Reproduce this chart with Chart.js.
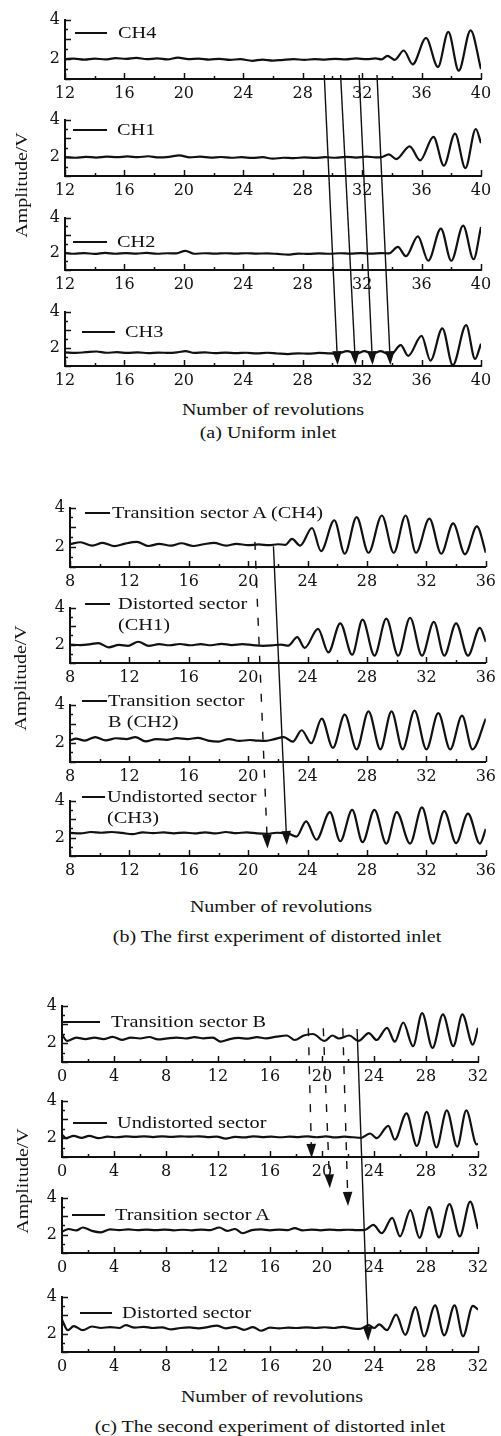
<!DOCTYPE html>
<html><head><meta charset="utf-8">
<script src="https://cdn.jsdelivr.net/npm/chart.js@4.4.1/dist/chart.umd.min.js"></script>
<style>
html,body{margin:0;padding:0;background:#fff;}
#root{position:relative;width:501px;height:1436px;overflow:hidden;background:#fff;}
.t{position:absolute;font-family:"Liberation Serif","Times New Roman",serif;font-size:16px;line-height:16px;color:#111;white-space:nowrap;}
.lg{position:absolute;height:0;border-top:2px solid #111;}
#ov{position:absolute;left:0;top:0;pointer-events:none;}
</style></head><body><div id="root"></div>
<script>
// ---------- data: [revolutions, amplitude V] ----------
// (a) Uniform inlet
const ch4a = [[12,2.0],[12.6,2.03],[13.3,1.98],[14,2.03],[14.7,1.99],[15.4,2.05],[16.1,2.02],[16.8,2.07],[17.5,2.0],[18.2,2.04],[18.9,1.99],[19.6,2.08],[20.3,2.0],[21,2.03],[21.7,1.98],[22.4,2.02],[23.1,1.97],[23.8,2.0],[24.6,1.92],[25.3,1.98],[26,1.93],[26.7,1.97],[27.4,2.0],[28.1,1.97],[28.8,2.0],[29.5,1.98],[30.2,2.02],[30.9,1.99],[31.6,2.04],[32.3,2.0],[32.9,2.04],[33.3,1.99],[33.7,2.17],[34.2,1.97],[34.8,2.44],[35.4,1.74],[36.3,3.07],[37.1,1.61],[37.8,3.38],[38.5,1.42],[39.3,3.46],[40,1.5]];
const ch1a = [[12,2.0],[12.7,1.97],[13.4,2.02],[14.1,1.98],[14.8,2.03],[15.5,2.0],[16.2,2.04],[16.9,2.0],[17.6,2.05],[18.3,1.99],[19,2.02],[19.7,2.1],[20.4,1.99],[21.1,2.03],[21.8,1.98],[22.5,2.01],[23.2,1.97],[23.9,2.0],[24.6,1.96],[25.3,2.0],[26,1.92],[26.7,1.97],[27.4,1.95],[28.1,1.99],[28.8,1.96],[29.5,2.0],[30.2,1.97],[30.9,2.02],[31.6,1.98],[32.3,2.03],[32.9,1.99],[33.3,2.0],[33.8,2.15],[34.3,1.9],[35.2,2.58],[35.9,1.83],[36.8,3.08],[37.5,1.55],[38.25,3.25],[38.95,1.42],[39.65,3.5],[40,2.75]];
const ch2a = [[12,1.98],[12.6,1.93],[13.3,1.97],[14,1.92],[14.7,1.98],[15.4,1.93],[16.1,1.97],[16.8,1.94],[17.5,1.98],[18.2,1.93],[18.9,1.96],[19.5,1.95],[20.1,2.1],[20.7,1.93],[21.4,1.96],[22.1,1.94],[22.8,1.96],[23.5,1.94],[24.2,1.96],[24.9,1.94],[25.6,1.95],[26.3,1.92],[27,1.88],[27.7,1.94],[28.4,1.92],[29.1,1.95],[29.8,1.93],[30.5,1.96],[31.2,1.94],[31.9,1.97],[32.6,1.94],[33.3,1.97],[33.8,1.95],[34.4,2.32],[34.95,1.79],[35.75,2.93],[36.45,1.53],[37.3,3.37],[38.0,1.53],[38.8,3.54],[39.5,1.62],[40,3.46]];
const ch3a = [[12,1.75],[12.7,1.72],[13.4,1.76],[14.1,1.8],[14.8,1.73],[15.5,1.76],[16.2,1.72],[16.9,1.75],[17.6,1.71],[18.3,1.74],[19,1.72],[19.6,1.76],[20.1,1.82],[20.7,1.72],[21.4,1.75],[22.1,1.71],[22.8,1.74],[23.5,1.71],[24.2,1.73],[24.9,1.7],[25.6,1.73],[26.3,1.69],[27,1.66],[27.7,1.7],[28.4,1.68],[29.1,1.72],[29.7,1.7],[30.3,1.68],[31.0,1.82],[31.6,1.68],[32.15,1.82],[32.7,1.68],[33.25,1.82],[33.9,1.6],[34.6,2.15],[35.1,1.56],[36.0,2.66],[36.6,1.3],[37.4,3.08],[38.1,1.05],[39.0,3.25],[39.6,1.39],[40,2.23]];
// (b) first experiment of distorted inlet
const ch4b = [[8,2.15],[8.7,2.25],[9.5,2.08],[10.2,2.22],[11,2.05],[11.7,2.18],[12.5,2.27],[13.3,2.06],[14,2.17],[14.8,2.08],[15.5,2.2],[16.3,2.06],[17,2.15],[17.7,2.22],[18.5,2.08],[19.2,2.17],[20,2.1],[20.7,2.14],[21.4,2.1],[22,2.15],[22.5,2.12],[22.95,2.42],[23.5,2.08],[24.3,2.97],[24.9,1.8],[25.8,3.36],[26.5,1.67],[27.3,3.52],[28.1,1.72],[29.0,3.6],[29.8,1.72],[30.6,3.6],[31.3,1.72],[32.2,3.44],[33.0,1.67],[33.8,3.2],[34.6,1.64],[35.4,3.05],[36,1.72]];
const ch1b = [[8,2.0],[8.7,1.97],[9.4,2.02],[9.9,2.08],[10.6,1.85],[11.3,1.98],[11.9,1.93],[12.6,2.15],[13.3,1.93],[14,2.02],[14.7,1.96],[15.4,2.03],[16.1,1.96],[16.8,2.02],[17.5,1.96],[18.2,2.04],[18.9,1.97],[19.6,2.02],[20.3,1.97],[21,1.93],[21.6,1.95],[22.2,2.0],[22.7,1.94],[23.3,2.4],[23.8,1.82],[24.7,2.85],[25.4,1.57],[26.2,3.15],[27.0,1.45],[27.7,3.35],[28.5,1.4],[29.3,3.4],[30.1,1.4],[30.9,3.45],[31.7,1.4],[32.5,3.23],[33.2,1.4],[34.0,3.15],[34.8,1.4],[35.6,2.9],[36,2.15]];
const ch2b = [[8,2.12],[8.4,2.22],[9,2.12],[9.7,2.3],[10.4,2.13],[11.1,2.24],[11.8,2.2],[12.4,2.3],[13.1,2.08],[13.8,2.2],[14.5,2.16],[15.2,2.25],[15.9,2.2],[16.6,2.26],[17.3,2.12],[18,2.07],[18.7,2.2],[19.4,2.1],[20.1,2.15],[20.6,2.12],[21.1,2.1],[21.7,2.18],[22.4,2.3],[23.0,2.06],[23.6,2.66],[24.25,1.98],[24.95,3.27],[25.7,1.74],[26.5,3.48],[27.3,1.66],[28.1,3.65],[28.9,1.66],[29.65,3.65],[30.4,1.66],[31.2,3.68],[32.0,1.66],[32.8,3.55],[33.6,1.66],[34.4,3.42],[35.1,1.66],[36,3.27]];
const ch3b = [[8,2.25],[8.7,2.22],[9.4,2.3],[10.1,2.26],[10.8,2.3],[11.5,2.25],[12.2,2.18],[12.9,2.28],[13.6,2.24],[14.3,2.28],[15,2.23],[15.7,2.27],[16.4,2.22],[17.1,2.28],[17.8,2.22],[18.5,2.3],[19.2,2.24],[19.9,2.28],[20.6,2.22],[21.3,2.2],[21.9,2.26],[22.6,2.24],[23.25,2.05],[23.9,2.88],[24.6,1.88],[25.5,3.38],[26.2,1.8],[27.0,3.5],[27.7,1.75],[28.5,3.5],[29.3,1.67],[30.0,3.38],[30.9,1.67],[31.7,3.63],[32.45,1.67],[33.2,3.43],[34.0,1.7],[34.8,3.3],[35.6,1.67],[36,2.47]];
// (c) second experiment of distorted inlet
const transB_c = [[0,2.45],[0.4,2.12],[1.1,2.3],[1.8,2.22],[2.5,2.3],[3.2,2.22],[3.9,2.34],[4.6,2.18],[5.3,2.3],[6,2.25],[6.7,2.33],[7.4,2.2],[8.1,2.26],[8.8,2.3],[9.5,2.25],[10.2,2.32],[10.9,2.26],[11.6,2.3],[12.2,2.08],[12.9,2.22],[13.6,2.28],[14.3,2.24],[15,2.32],[15.7,2.26],[16.5,2.35],[17.3,2.41],[17.9,2.17],[18.6,2.41],[19.3,2.49],[20.2,2.12],[20.8,2.41],[21.3,2.25],[22.1,2.41],[22.8,2.12],[23.6,2.54],[24.2,2.17],[25.0,2.82],[25.6,2.08],[26.25,3.1],[27.0,1.84],[27.7,3.6],[28.5,1.75],[29.3,3.53],[30.1,1.84],[30.8,3.53],[31.6,1.92],[32,2.82]];
const undist_c = [[0,2.2],[0.3,2.0],[0.9,2.12],[1.5,2.02],[2.1,2.12],[2.8,2.0],[3.5,2.08],[4.2,2.05],[4.9,2.1],[5.6,2.07],[6.3,2.1],[7,2.06],[7.7,2.1],[8.4,2.07],[9.1,2.1],[9.8,2.08],[10.5,2.1],[11.2,2.06],[11.9,2.08],[12.6,1.98],[13.3,2.07],[14,2.04],[14.7,2.1],[15.4,2.06],[16.1,2.08],[16.8,2.05],[17.5,2.08],[18.2,2.06],[18.9,2.1],[19.6,2.05],[20.3,2.1],[21,2.04],[21.7,2.08],[22.4,2.05],[23.0,2.02],[23.7,2.25],[24.2,2.0],[25.1,2.66],[25.6,1.92],[26.5,3.32],[27.3,1.59],[28.05,3.4],[28.8,1.51],[29.6,3.48],[30.4,1.55],[31.1,3.48],[31.9,1.67],[32,1.7]];
const transA_c = [[0,2.15],[0.5,2.3],[1.1,2.22],[1.6,2.38],[2.3,2.2],[3.0,2.12],[3.7,2.28],[4.4,2.24],[5.1,2.28],[5.8,2.24],[6.5,2.27],[7.2,2.24],[7.9,2.27],[8.6,2.23],[9.3,2.26],[10,2.23],[10.7,2.27],[11.4,2.24],[12.1,2.38],[12.7,2.2],[13.3,2.3],[13.9,2.07],[14.6,2.24],[15.3,2.28],[16,2.23],[16.7,2.27],[17.4,2.24],[17.9,2.35],[18.5,2.22],[19.2,2.27],[19.9,2.23],[20.6,2.27],[21.3,2.24],[22,2.26],[22.7,2.24],[23.3,2.25],[23.95,2.52],[24.6,2.07],[25.4,2.9],[26.0,1.9],[26.8,3.32],[27.5,1.82],[28.25,3.48],[29.0,1.85],[29.8,3.65],[30.6,1.9],[31.4,3.78],[32,2.3]];
const dist_c = [[0,2.75],[0.45,2.18],[0.9,2.4],[1.6,2.18],[2.3,2.38],[3,2.3],[3.7,2.35],[4.4,2.3],[4.9,2.45],[5.6,2.32],[6.3,2.36],[7,2.3],[7.7,2.33],[8.4,2.22],[9.1,2.3],[9.8,2.33],[10.5,2.28],[11.2,2.35],[11.9,2.43],[12.6,2.28],[13.3,2.36],[14,2.2],[14.7,2.35],[15.3,2.15],[16,2.32],[16.7,2.28],[17.4,2.32],[18.1,2.3],[18.8,2.33],[19.5,2.3],[20.2,2.34],[20.9,2.3],[21.6,2.36],[22.3,2.28],[22.9,2.25],[23.6,2.45],[24.0,2.3],[24.4,2.5],[25.0,2.18],[25.7,3.02],[26.4,1.93],[27.2,3.43],[27.85,1.85],[28.7,3.52],[29.4,1.9],[30.2,3.52],[30.85,1.85],[31.6,3.5],[32,3.3]];

// x-axis ranges and tick labels
const xRangeA = [12, 40], xRangeB = [8, 36], xRangeC = [0, 32];
const yRange = [1, 4];
const yTickLabels = [2, 4];

// legend texts
const labelsA = [["CH4"], ["CH1"], ["CH2"], ["CH3"]];
const labelsB = [["Transition sector A (CH4)"], ["Distorted sector", "(CH1)"], ["Transition sector", "B (CH2)"], ["Undistorted sector", "(CH3)"]];
const labelsC = [["Transition sector B"], ["Undistorted sector"], ["Transition sector A"], ["Distorted sector"]];

// propagation arrows: from [subplot, revolutions, V] to [subplot, revolutions, V]
const arrowsA = [
  {from:[0,29.45,1.2], to:[3,30.35,1.05], dashed:false},
  {from:[0,30.55,1.2], to:[3,31.55,1.05], dashed:false},
  {from:[0,31.8,1.2],  to:[3,32.7,1.05],  dashed:false},
  {from:[0,33.0,1.2],  to:[3,33.9,1.05],  dashed:false}
];
const arrowsB = [
  {from:[0,20.45,2.27], to:[3,21.3,1.4], dashed:true},
  {from:[0,21.7,2.05],  to:[3,22.6,1.6], dashed:false}
];
const arrowsC = [
  {from:[0,18.95,2.8], to:[1,19.2,0.95], dashed:true},
  {from:[0,20.1,2.8],  to:[2,20.6,4.5],  dashed:true},
  {from:[0,21.6,2.8],  to:[2,22.0,3.55], dashed:true},
  {from:[0,22.7,2.75], to:[3,23.55,1.6], dashed:false}
];

// ---------- layout ----------
const W = 501, PADT = 10, XLAB = 26;
const INK = '#111';
const PANELS = [
  {xr:xRangeA, left:65, right:481, subs:[[15,79],[115,176],[213,270],[307,366]], series:[ch4a,ch1a,ch2a,ch3a], labels:labelsA, arrows:arrowsA,
   legend:[[75,107,33,118],[73,107,130,117],[73,107,242,117],[82,115,332,125]], lineGap:21,
   xtitle:[273,410], caption:["(a) Uniform inlet",268,433], ytitle:[22,185]},
  {xr:xRangeB, left:70, right:486, subs:[[503,567],[603,663],[700,762],[796,856]], series:[ch4b,ch1b,ch2b,ch3b], labels:labelsB, arrows:arrowsB,
   legend:[[85,110,513,112],[85,110,604,118],[82,107,701,108],[82,105,797,107]], lineGap:21,
   xtitle:[281,907], caption:["(b) The first experiment of distorted inlet",277,937], ytitle:[21,678]},
  {xr:xRangeC, left:62, right:478, subs:[[1001,1062],[1096,1157],[1193,1253],[1292,1352]], series:[transB_c,undist_c,transA_c,dist_c], labels:labelsC, arrows:arrowsC,
   legend:[[63,100,1022,111],[73,107,1123,117],[72,105,1215,115],[80,112,1313,122]], lineGap:21,
   xtitle:[272,1397], caption:["(c) The second experiment of distorted inlet",270,1427], ytitle:[23,1181]}
];

const root = document.getElementById('root');

const innerTicks = {
  id:'innerTicks',
  afterDraw(chart){
    const ctx = chart.ctx, xs = chart.scales.x, ys = chart.scales.y, a = chart.chartArea;
    ctx.save();
    ctx.strokeStyle = INK; ctx.lineWidth = 1.5;
    xs.ticks.forEach(t => {
      const p = Math.round(xs.getPixelForValue(t.value)) + 0.5;
      const len = (t.value % 4 === 0) ? 6 : 3;
      ctx.beginPath(); ctx.moveTo(p, a.bottom); ctx.lineTo(p, a.bottom - len); ctx.stroke();
    });
    ys.ticks.forEach(t => {
      const p = Math.round(ys.getPixelForValue(t.value)) + 0.5;
      const len = Number.isInteger(t.value) ? 6 : 3;
      ctx.beginPath(); ctx.moveTo(a.left, p); ctx.lineTo(a.left + len, p); ctx.stroke();
    });
    ctx.restore();
  }
};

function makeChart(panel, sub, data){
  const top = sub[0], bottom = sub[1];
  const h = bottom - top + PADT + XLAB;
  const cv = document.createElement('canvas');
  cv.width = W; cv.height = h;
  cv.style.cssText = `position:absolute;left:0;top:${top - PADT}px;width:${W}px;height:${h}px;`;
  root.appendChild(cv);
  const tickFont = {family:'DejaVu Serif', size:16};
  return new Chart(cv, {
    type:'line',
    data:{datasets:[{data:data.map(p => ({x:p[0], y:p[1]})), borderColor:INK, borderWidth:2.2, pointRadius:0,
      cubicInterpolationMode:'monotone', fill:false}]},
    options:{
      responsive:false, animation:false, devicePixelRatio:1, parsing:false,
      layout:{autoPadding:false, padding:{left:0, right:W - panel.right, top:PADT, bottom:0}},
      plugins:{legend:{display:false}, tooltip:{enabled:false}},
      scales:{
        x:{type:'linear', min:panel.xr[0], max:panel.xr[1],
           grid:{drawOnChartArea:false, drawTicks:false},
           border:{display:true, color:INK, width:2},
           ticks:{stepSize:2, autoSkip:false, maxRotation:0, padding:5, color:INK, font:tickFont,
                  callback:v => (v % 4 === 0 ? String(v) : '')},
           afterFit:s => { s.height = XLAB; }},
        y:{type:'linear', min:yRange[0], max:yRange[1],
           grid:{drawOnChartArea:false, drawTicks:false},
           border:{display:true, color:INK, width:2},
           ticks:{stepSize:0.5, autoSkip:false, padding:5, color:INK, font:tickFont,
                  callback:v => (yTickLabels.includes(v) ? String(v) : '')},
           afterFit:s => { s.width = panel.left; }}
      }
    },
    plugins:[innerTicks]
  });
}

function addText(txt, x, y, mode){
  const d = document.createElement('div');
  d.className = 't';
  d.textContent = txt;
  d.style.left = x + 'px';
  d.style.top = (y - 8) + 'px';
  if (mode === 'center'){
    d.style.transformOrigin = 'center center';
    d.style.transform = 'translateX(-50%) scaleX(1.25)';
  } else if (mode === 'rot'){
    d.style.transformOrigin = 'center center';
    d.style.top = y + 'px';
    d.style.transform = 'translate(-50%,-50%) rotate(-90deg) scaleX(1.25)';
  } else {
    d.style.transformOrigin = 'left center';
    d.style.transform = 'scaleX(1.27)';
  }
  root.appendChild(d);
}

function addLegendLine(x1, x2, y){
  const d = document.createElement('div');
  d.className = 'lg';
  d.style.left = x1 + 'px'; d.style.width = (x2 - x1) + 'px'; d.style.top = (y - 1) + 'px';
  root.appendChild(d);
}

const charts = PANELS.map(p => p.subs.map((s, i) => makeChart(p, s, p.series[i])));

PANELS.forEach(p => {
  p.labels.forEach((lines, i) => {
    const lg = p.legend[i];
    addLegendLine(lg[0], lg[1], lg[2]);
    lines.forEach((ln, k) => addText(ln, lg[3], lg[2] + k * p.lineGap, 'left'));
  });
  addText('Number of revolutions', p.xtitle[0], p.xtitle[1], 'center');
  addText(p.caption[0], p.caption[1], p.caption[2], 'center');
  addText('Amplitude/V', p.ytitle[0], p.ytitle[1], 'rot');
});

// overlay with arrows, positioned through the charts' own scales
const ov = document.createElement('canvas');
ov.id = 'ov'; ov.width = W; ov.height = 1436;
ov.style.width = W + 'px'; ov.style.height = '1436px';
root.appendChild(ov);
const octx = ov.getContext('2d');
function toPage(pi, ref){
  const ch = charts[pi][ref[0]];
  return [ch.scales.x.getPixelForValue(ref[1]), ch.canvas.offsetTop + ch.scales.y.getPixelForValue(ref[2])];
}
PANELS.forEach((p, pi) => {
  p.arrows.forEach(a => {
    const [x1, y1] = toPage(pi, a.from), [x2, y2] = toPage(pi, a.to);
    const ang = Math.atan2(y2 - y1, x2 - x1), hl = 14, hw = 4.8;
    const bx = x2 - hl * Math.cos(ang), by = y2 - hl * Math.sin(ang);
    octx.strokeStyle = INK; octx.fillStyle = INK; octx.lineWidth = 1.4;
    octx.setLineDash(a.dashed ? [8, 11] : []);
    octx.beginPath(); octx.moveTo(x1, y1); octx.lineTo(bx, by); octx.stroke();
    octx.setLineDash([]);
    octx.beginPath();
    octx.moveTo(x2, y2);
    octx.lineTo(bx - hw * Math.sin(ang), by + hw * Math.cos(ang));
    octx.lineTo(bx + hw * Math.sin(ang), by - hw * Math.cos(ang));
    octx.closePath(); octx.fill();
  });
});
</script>
</body></html>
